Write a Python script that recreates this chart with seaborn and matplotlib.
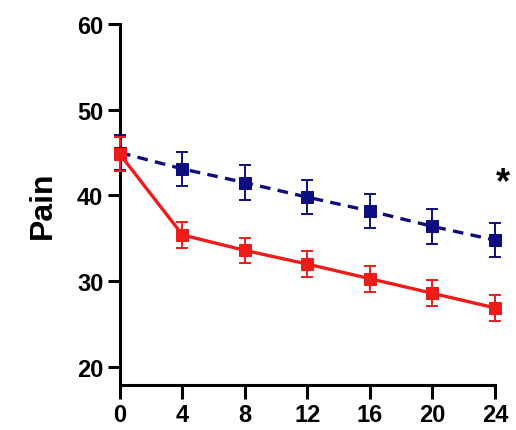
import matplotlib
matplotlib.use("Agg")
import matplotlib.pyplot as plt
import seaborn as sns
import pandas as pd

# Pain score over time (weeks) for the two groups, mean ± error
weeks = [0, 4, 8, 12, 16, 20, 24]
control_mean = [45.0, 43.1, 41.5, 39.8, 38.2, 36.4, 34.8]
control_err = [2.0, 2.0, 2.0, 2.0, 2.0, 2.0, 2.0]
treated_mean = [44.8, 35.4, 33.6, 32.0, 30.3, 28.6, 26.9]
treated_err = [2.0, 1.5, 1.5, 1.5, 1.5, 1.5, 1.5]
group_names = ["Control", "Treatment"]
y_ticks = [20, 30, 40, 50, 60]

sns.set_theme(style="ticks")
plt.rcParams["font.family"] = ["Liberation Sans", "DejaVu Sans"]
plt.rcParams["font.weight"] = "bold"
plt.rcParams["text.color"] = "black"
plt.rcParams["xtick.color"] = "black"
plt.rcParams["ytick.color"] = "black"
plt.rcParams["axes.labelcolor"] = "black"

df = pd.DataFrame({
    "week": weeks * 2,
    "pain": control_mean + treated_mean,
    "group": [group_names[0]] * len(weeks) + [group_names[1]] * len(weeks),
})

blue = "#0d0d80"
red = "#ee1b1b"

fig = plt.figure(figsize=(5.16, 4.31), dpi=100)
ax = fig.add_axes([0.2326, 0.1044, 0.7264, 0.8376])

for name, color, mean, err, ls in [
    (group_names[0], blue, control_mean, control_err, (0, (3.2, 2.2))),
    (group_names[1], red, treated_mean, treated_err, "-"),
]:
    sub = df[df["group"] == name]
    ax.errorbar(weeks, mean, yerr=err, fmt="none", ecolor=color,
                elinewidth=1.4, capsize=4, capthick=1.4, zorder=3, clip_on=False)
    sns.lineplot(data=sub, x="week", y="pain", ax=ax, color=color,
                 linewidth=2.4, linestyle=ls, marker="s", markersize=9,
                 markeredgecolor=color, markerfacecolor=color,
                 zorder=4, clip_on=False, legend=False)

ax.set_xlim(0, 24)
ax.set_ylim(17.9, 60)
ax.set_xticks(weeks)
ax.set_yticks(y_ticks)
ax.set_xlabel("")
ax.set_ylabel("Pain", fontsize=23, fontweight="bold", labelpad=14, color="black")

for side in ("top", "right"):
    ax.spines[side].set_visible(False)
for side in ("left", "bottom"):
    ax.spines[side].set_linewidth(2.2)
    ax.spines[side].set_color("black")
ax.spines["left"].set_bounds(17.9, 60)

ax.tick_params(axis="y", width=2.2, length=9, color="black",
               labelcolor="black", labelsize=17, pad=3)
ax.tick_params(axis="x", width=2.2, length=10, color="black",
               labelcolor="black", labelsize=17, pad=3)
for lbl in ax.get_xticklabels() + ax.get_yticklabels():
    lbl.set_fontweight("bold")

ax.text(24.5, 41.5, "*", fontsize=26, fontweight="bold", color="black",
        ha="center", va="center", clip_on=False)

fig.savefig("out.png", dpi=100)
